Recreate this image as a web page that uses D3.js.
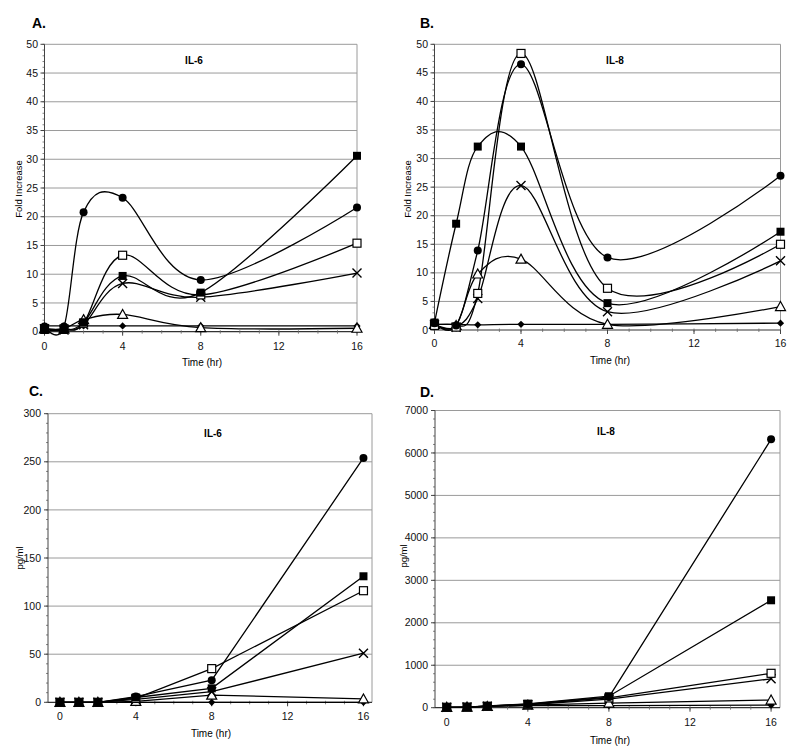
<!DOCTYPE html>
<html>
<head>
<meta charset="utf-8">
<script src="https://cdn.jsdelivr.net/npm/d3@7"></script>
<style>
  html, body { margin: 0; padding: 0; background: #fff; }
  svg { display: block; font-family: "Liberation Sans", Arial, sans-serif; }
</style>
</head>
<body>
<svg id="chart" width="800" height="755"></svg>
<script>
// ---------------- DATA ----------------
const times = [0, 1, 2, 4, 8, 16];
const xTickValues = [0, 4, 8, 12, 16];
const foldTicks = [0, 5, 10, 15, 20, 25, 30, 35, 40, 45, 50];
const il6PgTicks = [0, 50, 100, 150, 200, 250, 300];
const il8PgTicks = [0, 1000, 2000, 3000, 4000, 5000, 6000, 7000];
const seriesKeys = ["diamond", "triangle", "cross", "openSquare", "circle", "filledSquare"];

// Panel A: IL-6 fold increase
const il6Fold_circle       = [0.9, 0.9, 20.8, 23.3, 9.0, 21.6];
const il6Fold_filledSquare = [0.3, 0.3, 1.6, 9.7, 6.8, 30.6];
const il6Fold_openSquare   = [0.5, 0.5, 1.5, 13.3, 6.4, 15.4];
const il6Fold_cross        = [0.5, 0.3, 1.2, 8.4, 6.0, 10.2];
const il6Fold_triangle     = [0.5, 0.5, 2.1, 3.0, 0.7, 0.6];
const il6Fold_diamond      = [1.0, 1.0, 1.0, 1.0, 1.0, 1.0];

// Panel B: IL-8 fold increase
const il8Fold_circle       = [1.2, 0.8, 13.9, 46.5, 12.7, 27.0];
const il8Fold_filledSquare = [1.3, 18.6, 32.1, 32.1, 4.7, 17.2];
const il8Fold_openSquare   = [0.8, 0.5, 6.4, 48.4, 7.3, 15.0];
const il8Fold_cross        = [1.0, 0.5, 5.5, 25.3, 3.2, 12.1];
const il8Fold_triangle     = [1.0, 0.8, 9.8, 12.4, 1.0, 4.1];
const il8Fold_diamond      = [1.0, 1.0, 0.9, 1.0, 1.0, 1.2];

// Panel C: IL-6 pg/ml
const il6Pg_circle       = [0, 0, 0, 6, 23, 254];
const il6Pg_filledSquare = [0, 0, 0, 5, 14.5, 131];
const il6Pg_openSquare   = [0, 0, 0, 4, 35, 116];
const il6Pg_cross        = [0, 0, 0, 3, 11, 51];
const il6Pg_triangle     = [0, 0, 0, 1, 7.5, 3.5];
const il6Pg_diamond      = [0, 0, 0, 0, 0, 0];

// Panel D: IL-8 pg/ml
const il8Pg_circle       = [10, 15, 35, 85, 250, 6320];
const il8Pg_filledSquare = [10, 15, 40, 90, 270, 2530];
const il8Pg_openSquare   = [10, 15, 35, 80, 230, 810];
const il8Pg_cross        = [10, 15, 35, 70, 200, 680];
const il8Pg_triangle     = [10, 15, 30, 60, 110, 180];
const il8Pg_diamond      = [10, 15, 30, 50, 50, 60];

// ---------------- LAYOUT ----------------
const svg = d3.select("#chart");

const panels = [
  {
    letter: "A.", title: "IL-6", yLabel: "Fold Increase", smooth: true,
    yTicks: foldTicks, yMinor: 1,
    series: { circle: il6Fold_circle, filledSquare: il6Fold_filledSquare, openSquare: il6Fold_openSquare,
              cross: il6Fold_cross, triangle: il6Fold_triangle, diamond: il6Fold_diamond },
    left: 44.5, right: 357, top: 44.3, bottom: 331.7, xDomain: [0, 16],
    letterPos: [32, 28], titlePos: [194, 64], yLabelPos: [22, 189], xLabelPos: [202, 366], xTickY: 349.5, yTickX: 38
  },
  {
    letter: "B.", title: "IL-8", yLabel: "Fold Increase", smooth: true,
    yTicks: foldTicks, yMinor: 1,
    series: { circle: il8Fold_circle, filledSquare: il8Fold_filledSquare, openSquare: il8Fold_openSquare,
              cross: il8Fold_cross, triangle: il8Fold_triangle, diamond: il8Fold_diamond },
    left: 434.5, right: 780.5, top: 44.3, bottom: 330, xDomain: [0, 16],
    letterPos: [420, 28], titlePos: [615, 64], yLabelPos: [411, 189], xLabelPos: [610, 364], xTickY: 347, yTickX: 428
  },
  {
    letter: "C.", title: "IL-6", yLabel: "pg/ml", smooth: false,
    yTicks: il6PgTicks, yMinor: 10,
    series: { circle: il6Pg_circle, filledSquare: il6Pg_filledSquare, openSquare: il6Pg_openSquare,
              cross: il6Pg_cross, triangle: il6Pg_triangle, diamond: il6Pg_diamond },
    left: 48, right: 372, top: 413.7, bottom: 702.3, xDomain: [-0.63, 16.45],
    letterPos: [29, 396], titlePos: [213, 437], yLabelPos: [23, 558], xLabelPos: [211, 737], xTickY: 719.5, yTickX: 41
  },
  {
    letter: "D.", title: "IL-8", yLabel: "pg/ml", smooth: false,
    yTicks: il8PgTicks, yMinor: 200,
    series: { circle: il8Pg_circle, filledSquare: il8Pg_filledSquare, openSquare: il8Pg_openSquare,
              cross: il8Pg_cross, triangle: il8Pg_triangle, diamond: il8Pg_diamond },
    left: 435, right: 780, top: 410.5, bottom: 707.7, xDomain: [-0.58, 16.44],
    letterPos: [420, 397], titlePos: [606, 435], yLabelPos: [407, 556], xLabelPos: [610, 744], xTickY: 726, yTickX: 428
  }
];

function drawMarker(g, kind, x, y) {
  const s = 4;
  if (kind === "circle") {
    g.append("circle").attr("cx", x).attr("cy", y).attr("r", 4).attr("fill", "#000");
  } else if (kind === "filledSquare") {
    g.append("rect").attr("x", x - s).attr("y", y - s).attr("width", 2 * s).attr("height", 2 * s).attr("fill", "#000");
  } else if (kind === "openSquare") {
    g.append("rect").attr("x", x - s).attr("y", y - s).attr("width", 2 * s).attr("height", 2 * s)
      .attr("fill", "#fff").attr("stroke", "#000").attr("stroke-width", 1.2);
  } else if (kind === "cross") {
    g.append("path").attr("d", `M${x - 4.5},${y - 4.5}L${x + 4.5},${y + 4.5}M${x - 4.5},${y + 4.5}L${x + 4.5},${y - 4.5}`)
      .attr("stroke", "#000").attr("stroke-width", 1.4).attr("fill", "none");
  } else if (kind === "triangle") {
    g.append("path").attr("d", `M${x},${y - 5}L${x + 5},${y + 4}L${x - 5},${y + 4}Z`)
      .attr("fill", "#fff").attr("stroke", "#000").attr("stroke-width", 1.2);
  } else if (kind === "diamond") {
    g.append("path").attr("d", `M${x},${y - 3.6}L${x + 3.6},${y}L${x},${y + 3.6}L${x - 3.6},${y}Z`).attr("fill", "#000");
  }
}

panels.forEach(p => {
  const g = svg.append("g");
  const yMax = p.yTicks[p.yTicks.length - 1];
  const x = d3.scaleLinear().domain(p.xDomain).range([p.left, p.right]);
  const y = d3.scaleLinear().domain([0, yMax]).range([p.bottom, p.top]);

  // gridlines
  g.selectAll(".grid").data(p.yTicks.filter(v => v > 0)).enter().append("line")
    .attr("x1", p.left).attr("x2", p.right)
    .attr("y1", d => y(d)).attr("y2", d => y(d))
    .attr("stroke", "#9a9a9a").attr("stroke-width", 1);
  // plot border right
  g.append("line").attr("x1", p.right).attr("x2", p.right).attr("y1", p.top).attr("y2", p.bottom)
    .attr("stroke", "#9a9a9a").attr("stroke-width", 1);

  // y axis with minor ticks
  const yMinorVals = d3.range(0, yMax + 1e-9, p.yMinor);
  g.selectAll(".ymin").data(yMinorVals).enter().append("line")
    .attr("x1", p.left - 2).attr("x2", p.left)
    .attr("y1", d => y(d)).attr("y2", d => y(d))
    .attr("stroke", "#666").attr("stroke-width", 0.8);
  g.selectAll(".ymaj").data(p.yTicks).enter().append("line")
    .attr("x1", p.left - 4).attr("x2", p.left)
    .attr("y1", d => y(d)).attr("y2", d => y(d))
    .attr("stroke", "#444").attr("stroke-width", 1);
  g.append("line").attr("x1", p.left).attr("x2", p.left).attr("y1", p.top).attr("y2", p.bottom)
    .attr("stroke", "#444").attr("stroke-width", 1);
  g.selectAll(".ylab").data(p.yTicks).enter().append("text")
    .attr("x", p.yTickX).attr("y", d => y(d) + 3.6)
    .attr("text-anchor", "end").attr("font-size", 10.5).attr("fill", "#111")
    .text(d => d);

  // x axis
  g.append("line").attr("x1", p.left).attr("x2", p.right).attr("y1", p.bottom).attr("y2", p.bottom)
    .attr("stroke", "#333").attr("stroke-width", 1.2);
  g.selectAll(".xmin").data(d3.range(0, 17, 1)).enter().append("line")
    .attr("x1", d => x(d)).attr("x2", d => x(d))
    .attr("y1", p.bottom - 1.5).attr("y2", p.bottom + 2)
    .attr("stroke", "#666").attr("stroke-width", 0.8);
  g.selectAll(".xmaj").data(xTickValues).enter().append("line")
    .attr("x1", d => x(d)).attr("x2", d => x(d))
    .attr("y1", p.bottom).attr("y2", p.bottom + 4)
    .attr("stroke", "#444").attr("stroke-width", 1);
  g.selectAll(".xlab").data(xTickValues).enter().append("text")
    .attr("x", d => x(d)).attr("y", p.xTickY)
    .attr("text-anchor", "middle").attr("font-size", 10.5).attr("fill", "#111")
    .text(d => d);

  // labels
  g.append("text").attr("x", p.letterPos[0]).attr("y", p.letterPos[1])
    .attr("font-size", 14).attr("font-weight", "bold").text(p.letter);
  g.append("text").attr("x", p.titlePos[0]).attr("y", p.titlePos[1])
    .attr("text-anchor", "middle").attr("font-size", 10).attr("font-weight", "bold").text(p.title);
  g.append("text").attr("x", p.xLabelPos[0]).attr("y", p.xLabelPos[1])
    .attr("text-anchor", "middle").attr("font-size", 10).text("Time (hr)");
  g.append("text")
    .attr("transform", `translate(${p.yLabelPos[0]},${p.yLabelPos[1]}) rotate(-90)`)
    .attr("text-anchor", "middle").attr("font-size", 9.5).text(p.yLabel);

  // lines
  const line = d3.line()
    .x(d => x(d[0])).y(d => y(d[1]))
    .curve(p.smooth ? d3.curveCardinal.tension(0) : d3.curveLinear);
  seriesKeys.forEach(k => {
    const pts = times.map((t, i) => [t, p.series[k][i]]);
    g.append("path").attr("d", line(pts)).attr("fill", "none")
      .attr("stroke", "#000").attr("stroke-width", 1.3);
  });
  // markers
  seriesKeys.forEach(k => {
    times.forEach((t, i) => drawMarker(g, k, x(t), y(p.series[k][i])));
  });
});
</script>
</body>
</html>
